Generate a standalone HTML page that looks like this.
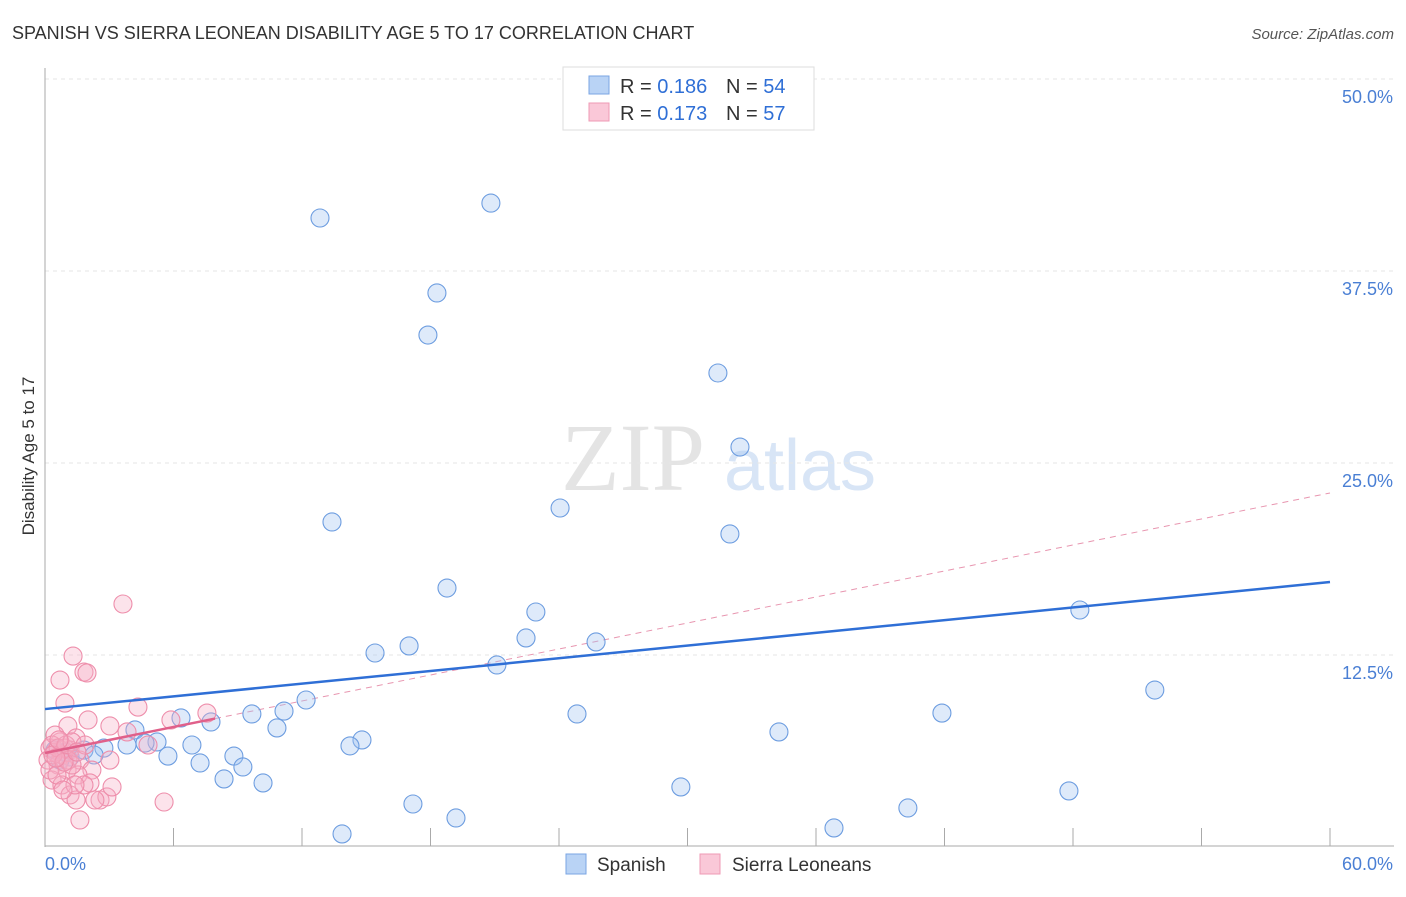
<!DOCTYPE html>
<html><head><meta charset="utf-8"><style>
body{margin:0;background:#fff;font-family:"Liberation Sans",sans-serif}
</style></head><body>
<svg id="c" width="1406" height="892" xmlns="http://www.w3.org/2000/svg" font-family="Liberation Sans, sans-serif"></svg>
<script>
const xTicks=[0,6,12,18,24,30,36,42,48,54,60];
const yTicks=[12.5,25,37.5,50];
const yTickLabels=["12.5%","25.0%","37.5%","50.0%"];
const spanishX=[12.84,20.82,18.30,17.88,31.42,32.45,13.40,24.05,31.98,18.77,22.92,48.32,22.46,25.73,17.00,15.41,21.10,51.82,12.19,11.16,6.35,7.75,9.66,24.84,41.88,10.83,34.27,4.20,5.23,4.67,6.86,14.80,14.24,2.75,1.82,3.83,2.29,0.98,8.82,5.74,7.24,9.24,8.36,10.18,29.69,47.81,17.18,40.29,19.19,36.84,13.87,0.47,1.17,0.70];
const spanishY=[40.95,41.92,36.07,33.33,30.86,26.04,21.16,22.07,20.38,16.86,15.30,15.43,13.61,13.35,13.09,12.63,11.85,10.22,9.57,8.85,8.40,8.14,8.66,8.66,8.72,7.75,7.49,7.62,6.84,6.77,6.64,6.97,6.58,6.44,6.31,6.64,5.99,6.18,5.92,5.92,5.47,5.21,4.43,4.17,3.91,3.65,2.80,2.54,1.89,1.24,0.85,6.31,5.86,5.66];
const sierraX=[3.64,1.31,1.82,1.96,0.70,0.93,4.34,7.56,5.88,2.01,1.07,3.03,4.81,3.83,1.45,0.70,0.23,0.47,0.79,1.17,1.63,0.61,1.03,2.19,1.54,3.03,0.33,0.79,2.10,1.17,2.57,1.45,2.89,1.63,5.56,3.13,0.47,0.14,0.33,0.61,0.93,1.07,1.26,0.23,0.56,1.82,1.40,0.84,2.33,0.98,1.26,0.37,0.65,0.89,1.87,1.49,0.51];
const sierraY=[15.82,12.43,11.39,11.33,10.87,9.37,9.11,8.72,8.27,8.27,7.88,7.88,6.64,7.49,7.10,6.84,6.44,6.18,5.99,6.31,5.66,5.34,5.01,5.01,4.69,5.66,4.36,4.04,4.17,3.39,3.06,3.06,3.26,1.76,2.93,3.91,7.29,5.66,6.64,6.44,6.44,5.66,5.34,5.01,4.69,4.04,4.04,3.71,3.06,6.64,6.84,5.99,6.97,5.53,6.64,6.18,5.79];
const blueTrend=[8.98,17.25];
const pinkTrend=[6.12,23.05];
const pinkSolidEnd=7.94;

const svg=document.getElementById('c');
const NS='http://www.w3.org/2000/svg';
const X=v=>45+v/60*1285, Y=v=>847-v/12.5*192;
function mk(t,a,p){const e=document.createElementNS(NS,t);for(const k in a)e.setAttribute(k,a[k]);(p||svg).appendChild(e);return e;}
function txt(s,a){const e=mk('text',a);e.textContent=s;return e;}

let t=txt('SPANISH VS SIERRA LEONEAN DISABILITY AGE 5 TO 17 CORRELATION CHART',{x:12,y:39,'font-size':18,fill:'#333'});

t=txt('Source: ZipAtlas.com',{x:1394,y:39,'font-size':15,fill:'#555','text-anchor':'end','font-style':'italic'});

t=txt('ZIP',{x:633,y:490,'font-size':96,fill:'#e4e4e4','text-anchor':'middle','font-family':'Liberation Serif, serif'});

t=txt('atlas',{x:800,y:490,'font-size':72,fill:'#d8e5f6','text-anchor':'middle'});


yTicks.forEach((v,i)=>{
 const l=mk('line',{x1:45,x2:1394,y1:Y(v),y2:Y(v),stroke:'#e6e6e6','stroke-dasharray':'4,4'});
 
 const s=txt(yTickLabels[i],{x:1393,y:Y(v)+24,'font-size':18,fill:'#4a7fd4','text-anchor':'end'});
 
});
let ax=mk('line',{x1:45,x2:45,y1:68,y2:847,stroke:'#aaa'});

ax=mk('line',{x1:45,x2:1394,y1:846,y2:846,stroke:'#aaa'});

xTicks.forEach(v=>{
 const l=mk('line',{x1:X(v),x2:X(v),y1:828,y2:846,stroke:'#aaa'});
 
});
t=txt('0.0%',{x:45,y:870,'font-size':18,fill:'#4a7fd4'});

t=txt('60.0%',{x:1393,y:870,'font-size':18,fill:'#4a7fd4','text-anchor':'end'});

t=txt('Disability Age 5 to 17',{x:34,y:456,'font-size':17,fill:'#333','text-anchor':'middle',transform:'rotate(-90 34 456)'});


let ln=mk('line',{x1:X(pinkSolidEnd),y1:Y(pinkTrend[0]+(pinkTrend[1]-pinkTrend[0])*pinkSolidEnd/60),x2:X(60),y2:Y(pinkTrend[1]),stroke:'#e896b0','stroke-width':1,'stroke-dasharray':'6,5'});


spanishX.forEach((v,i)=>{
 const c=mk('circle',{cx:X(v),cy:Y(spanishY[i]),r:9,fill:'rgba(160,195,240,0.35)',stroke:'#6d9de0','stroke-width':1.1});
 
});
sierraX.forEach((v,i)=>{
 const c=mk('circle',{cx:X(v),cy:Y(sierraY[i]),r:9,fill:'rgba(245,175,198,0.35)',stroke:'#ee8eab','stroke-width':1.1});
 
});
ln=mk('line',{x1:X(0),y1:Y(blueTrend[0]),x2:X(60),y2:Y(blueTrend[1]),stroke:'#2f6fd6','stroke-width':2.5});

ln=mk('line',{x1:X(0),y1:Y(pinkTrend[0]),x2:X(pinkSolidEnd),y2:Y(pinkTrend[0]+(pinkTrend[1]-pinkTrend[0])*pinkSolidEnd/60),stroke:'#e0608a','stroke-width':2.5});


const lg=mk('g',{});
mk('rect',{x:563,y:67,width:251,height:63,fill:'#fff',stroke:'#ddd'},lg);
mk('rect',{x:589,y:76,width:20,height:18,fill:'#b9d3f5',stroke:'#7aa5e3'},lg);
mk('rect',{x:589,y:103,width:20,height:18,fill:'#fac8d8',stroke:'#ef9ab5'},lg);
[[93,'0.186','54'],[120,'0.173','57']].forEach(r=>{
 let a=mk('text',{x:620,y:r[0],'font-size':20,fill:'#333'},lg);
 a.innerHTML='R = <tspan fill="#2f6fd6">'+r[1]+'</tspan>';
 a=mk('text',{x:726,y:r[0],'font-size':20,fill:'#333'},lg);
 a.innerHTML='N = <tspan fill="#2f6fd6">'+r[2]+'</tspan>';
});
const bl=mk('g',{});
mk('rect',{x:566,y:854,width:20,height:20,fill:'#b9d3f5',stroke:'#7aa5e3'},bl);
let bt=mk('text',{x:597,y:871,'font-size':19,fill:'#333'},bl);bt.textContent='Spanish';
mk('rect',{x:700,y:854,width:20,height:20,fill:'#fac8d8',stroke:'#ef9ab5'},bl);
bt=mk('text',{x:732,y:871,'font-size':19,fill:'#333'},bl);bt.textContent='Sierra Leoneans';
</script>
</body></html>
